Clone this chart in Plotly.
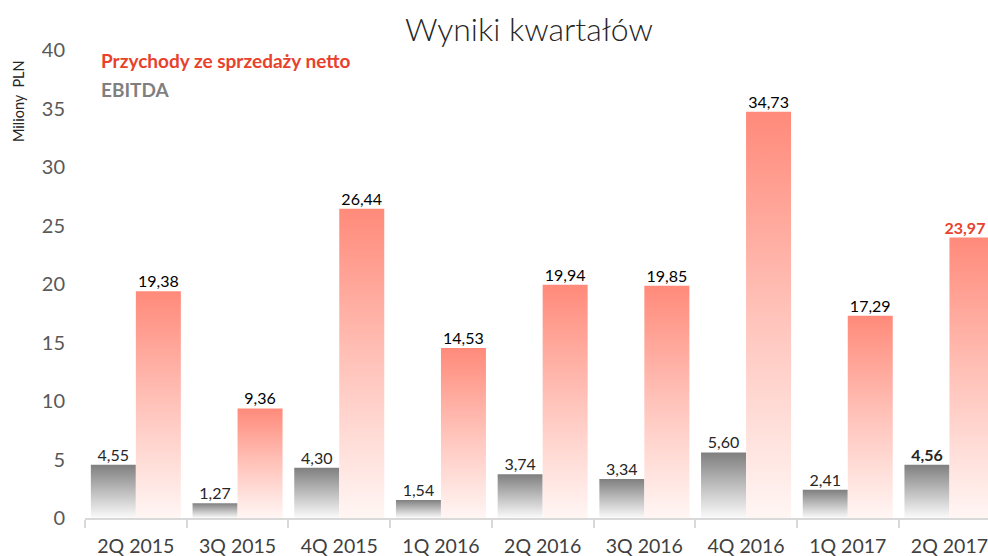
import plotly.graph_objects as go

categories = ["2Q 2015", "3Q 2015", "4Q 2015", "1Q 2016", "2Q 2016",
              "3Q 2016", "4Q 2016", "1Q 2017", "2Q 2017"]
ebitda = [4.55, 1.27, 4.30, 1.54, 3.74, 3.34, 5.60, 2.41, 4.56]
revenue = [19.38, 9.36, 26.44, 14.53, 19.94, 19.85, 34.73, 17.29, 23.97]
ebitda_labels = ["4,55", "1,27", "4,30", "1,54", "3,74", "3,34", "5,60", "2,41", "4,56"]
revenue_labels = ["19,38", "9,36", "26,44", "14,53", "19,94", "19,85", "34,73", "17,29", "23,97"]
y_ticks = [0, 5, 10, 15, 20, 25, 30, 35, 40]

BAR_W = 0.4425
FONT = "Lato"
W, H = 988, 556
ML, MR, MT, MB = 85, 0, 50, 38

fig = go.Figure()

gray_scale = [[0, "#FAFAFA"], [0.5, "#BDBDBD"], [1, "#7F7F7F"]]
red_scale = [[0, "#FFF6F4"], [0.5, "#FFC3BA"], [1, "#FF8A7A"]]

def rect(x0, x1, h, scale, name):
    return go.Scatter(
        x=[x0, x1, x1, x0, x0], y=[0, 0, h, h, 0],
        mode="lines", line=dict(width=0), fill="toself",
        fillgradient=dict(type="vertical", colorscale=scale),
        hoverinfo="skip", showlegend=False, name=name,
    )

for i, (e, r) in enumerate(zip(ebitda, revenue)):
    fig.add_trace(rect(i - BAR_W, i, e, gray_scale, "EBITDA"))
    fig.add_trace(rect(i, i + BAR_W, r, red_scale, "Przychody"))

n = len(categories)
last = n - 1
e_x = [i - BAR_W / 2 for i in range(n)]
r_x = [i + BAR_W / 2 if i != last else i + BAR_W * 0.8 for i in range(n)]
r_pos = ["top center" if i != last else "top left" for i in range(n)]

fig.add_trace(go.Scatter(
    x=e_x, y=ebitda, mode="text",
    text=[f"<b>{t}</b>" if i == last else t for i, t in enumerate(ebitda_labels)],
    textposition="top center",
    textfont=dict(family=FONT, size=16, color="#262626"),
    showlegend=False, hoverinfo="skip", cliponaxis=False,
))
fig.add_trace(go.Scatter(
    x=r_x, y=revenue, mode="text",
    text=[f"<b>{t}</b>" if i == last else t for i, t in enumerate(revenue_labels)],
    textposition=r_pos,
    textfont=dict(family=FONT, size=16,
                  color=["#E8412C" if i == last else "#000000" for i in range(n)]),
    showlegend=False, hoverinfo="skip", cliponaxis=False,
))

plot_w = W - ML - MR
plot_h = H - MT - MB
cat_px = 101.7

def px_to_paper(px_x, px_y):
    return (px_x - ML) / plot_w, 1 - (px_y - MT) / plot_h

ann = []
for text, px, py, size, color in [
    ("<b>Przychody ze sprzedaży netto</b>", 99, 60, 19, "#E8412C"),
    ("<b>EBITDA</b>", 99, 89, 19, "#7F7F7F"),
]:
    x, y = px_to_paper(px, py)
    ann.append(dict(text=text, x=x, y=y, xref="paper", yref="paper",
                    showarrow=False, xanchor="left", yanchor="middle",
                    font=dict(family=FONT, size=size, color=color)))
x, y = px_to_paper(18, 101)
ann.append(dict(text="Miliony  PLN", x=x, y=y, xref="paper", yref="paper",
                textangle=-90, showarrow=False, xanchor="center", yanchor="middle",
                font=dict(family=FONT, size=14.5, color="#262626")))

fig.update_layout(
    width=W, height=H,
    margin=dict(l=ML, r=MR, t=MT, b=MB, autoexpand=False),
    paper_bgcolor="white", plot_bgcolor="white",
    title=dict(text="Wyniki kwartałów", x=529 / W, xanchor="center",
               xref="container", y=1 - 30 / H, yanchor="middle", yref="container",
               font=dict(family=FONT, size=32, color="#262626", weight=300)),
    xaxis=dict(
        range=[-0.5, -0.5 + plot_w / cat_px],
        tickvals=list(range(n)), ticktext=categories,
        ticks="", showgrid=False, zeroline=False, automargin=False,
        ticklabeloverflow="allow",
        showline=True, linecolor="#D9D9D9", linewidth=2,
        tickfont=dict(family=FONT, size=19.5, color="#404040"),
        ticklabelstandoff=10,
        minor=dict(tickvals=[i - 0.5 for i in range(n + 1)],
                   ticks="outside", ticklen=8, tickcolor="#D9D9D9", tickwidth=2,
                   showgrid=False),
        fixedrange=True,
    ),
    yaxis=dict(
        range=[0, 40], tickvals=y_ticks, ticktext=[str(v) for v in y_ticks],
        showgrid=False, zeroline=False, showline=False, ticks="", automargin=False,
        tickfont=dict(family=FONT, size=20, color="#595959"),
        ticklabelstandoff=19,
    ),
    annotations=ann,
)

fig.write_html(
    "out.html",
    config={"displayModeBar": False},
    post_script="document.body.style.margin='0px'; document.body.style.overflow='hidden';",
)
